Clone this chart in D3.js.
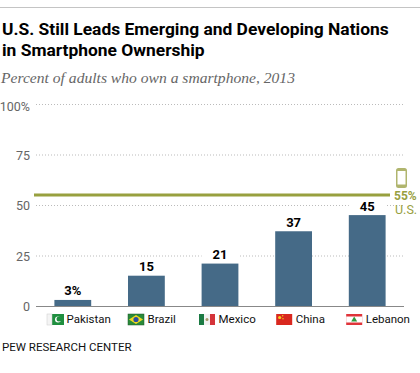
<!DOCTYPE html>
<html>
<head>
<meta charset="utf-8">
<script src="https://cdn.jsdelivr.net/npm/d3@7"></script>
<style>
  body { margin: 0; background: #fff; }
  text { font-family: Roboto, sans-serif; }
</style>
</head>
<body>
<div id="chart"></div>
<script>
// Chart data
const countries = ["Pakistan", "Brazil", "Mexico", "China", "Lebanon"];
const ownership = [3, 15, 21, 37, 45];
const valueLabels = ["3%", "15", "21", "37", "45"];
const yTicks = [0, 25, 50, 75, 100];
const usValue = 55;

const width = 420;
const height = 373;

const svg = d3.select("#chart")
    .append("svg")
    .attr("width", width)
    .attr("height", height)
    .style("display", "block");

const x = d3.scaleBand()
    .domain(countries)
    .range([36, 404])
    .paddingInner(0.5)
    .paddingOuter(0.25);

const y = d3.scaleLinear()
    .domain([0, 100])
    .range([306, 104]);

// Header
svg.append("line")
    .attr("x1", 0).attr("x2", width)
    .attr("y1", 7.5).attr("y2", 7.5)
    .attr("stroke", "#c4c4c4");

svg.selectAll(".title")
    .data(["U.S. Still Leads Emerging and Developing Nations", "in Smartphone Ownership"])
    .enter()
    .append("text")
    .attr("class", "title")
    .attr("x", 2)
    .attr("y", (d, i) => 35 + i * 20.5)
    .attr("font-size", "17.4px")
    .attr("font-weight", 700)
    .attr("fill", "#000")
    .text(d => d);

svg.append("text")
    .attr("x", 1)
    .attr("y", 83)
    .attr("font-size", "15.6px")
    .attr("font-style", "italic")
    .attr("fill", "#666")
    .style("font-family", "'Liberation Serif', serif")
    .text("Percent of adults who own a smartphone, 2013");

// Grid and y labels
svg.selectAll(".grid")
    .data(yTicks.filter(d => d > 0))
    .enter()
    .append("line")
    .attr("class", "grid")
    .attr("x1", 36).attr("x2", 403)
    .attr("y1", d => y(d) + 0.5).attr("y2", d => y(d) + 0.5)
    .attr("stroke", "#bbb")
    .attr("stroke-dasharray", "1,2");

svg.selectAll(".ylabel")
    .data(yTicks)
    .enter()
    .append("text")
    .attr("class", "ylabel")
    .attr("x", 30)
    .attr("y", d => y(d) + (d === 100 ? 7 : 5))
    .attr("text-anchor", "end")
    .attr("font-size", "12.5px")
    .attr("fill", "#666")
    .text(d => d === 100 ? "100%" : d);

// White patch above each bar, it breaks the grid behind the value labels
svg.selectAll(".patch")
    .data(countries)
    .enter()
    .append("rect")
    .attr("class", "patch")
    .attr("x", d => x(d))
    .attr("width", x.bandwidth())
    .attr("y", (d, i) => y(ownership[i]) - 16)
    .attr("height", 16)
    .attr("fill", "#fff");

// Bars
svg.selectAll(".bar")
    .data(countries)
    .enter()
    .append("rect")
    .attr("class", "bar")
    .attr("x", d => x(d))
    .attr("width", x.bandwidth())
    .attr("y", (d, i) => y(ownership[i]))
    .attr("height", (d, i) => y(0) - y(ownership[i]))
    .attr("fill", "#456a87");

svg.selectAll(".value")
    .data(countries)
    .enter()
    .append("text")
    .attr("class", "value")
    .attr("x", d => x(d) + x.bandwidth() / 2)
    .attr("y", (d, i) => y(ownership[i]) - 4.5)
    .attr("text-anchor", "middle")
    .attr("font-size", "13px")
    .attr("font-weight", 700)
    .attr("fill", "#000")
    .text((d, i) => valueLabels[i]);

// Baseline
svg.append("line")
    .attr("x1", 36).attr("x2", 404)
    .attr("y1", y(0) + 0.5).attr("y2", y(0) + 0.5)
    .attr("stroke", "#888");

// U.S. reference line
svg.append("line")
    .attr("x1", 34).attr("x2", 390)
    .attr("y1", y(usValue) + 0.2).attr("y2", y(usValue) + 0.2)
    .attr("stroke", "#98a03f")
    .attr("stroke-width", 3);

// Phone icon
const phone = svg.append("g")
    .attr("transform", "translate(396,168)");
phone.append("rect")
    .attr("width", 11).attr("height", 20)
    .attr("rx", 2.5)
    .attr("fill", "#b0b56e");
phone.append("rect")
    .attr("x", 1.5).attr("y", 3)
    .attr("width", 8).attr("height", 13.5)
    .attr("fill", "#fff");

svg.append("text")
    .attr("x", 394).attr("y", 199.5)
    .attr("font-size", "12px")
    .attr("font-weight", 700)
    .attr("fill", "#98a03f")
    .text("55%");
svg.append("text")
    .attr("x", 395).attr("y", 213.5)
    .attr("font-size", "12.5px")
    .attr("fill", "#98a03f")
    .text("U.S.");

// Small flags, each drawn in a 16x11 box
const flags = {
    Pakistan: g => {
        g.append("rect").attr("width", 17).attr("height", 11).attr("fill", "#1f8f3f");
        g.append("rect").attr("width", 5).attr("height", 11).attr("fill", "#f4f4f4").attr("stroke", "#ccc").attr("stroke-width", 0.5);
        g.append("circle").attr("cx", 11).attr("cy", 5.5).attr("r", 3).attr("fill", "#fff");
        g.append("circle").attr("cx", 12).attr("cy", 5).attr("r", 2.5).attr("fill", "#1f8f3f");
    },
    Brazil: g => {
        g.append("rect").attr("width", 16).attr("height", 11).attr("fill", "#2a8a3a").attr("stroke", "#1d5a28").attr("stroke-width", 0.5);
        g.append("path").attr("d", "M8,1L15,5.5L8,10L1,5.5Z").attr("fill", "#f2d920");
        g.append("circle").attr("cx", 8).attr("cy", 5.5).attr("r", 2.6).attr("fill", "#2c4f9e");
    },
    Mexico: g => {
        g.append("rect").attr("width", 16).attr("height", 11).attr("fill", "#f2f2f2");
        g.append("rect").attr("width", 5).attr("height", 11).attr("fill", "#1b7a43");
        g.append("rect").attr("x", 11).attr("width", 5).attr("height", 11).attr("fill", "#d5343a");
        g.append("circle").attr("cx", 8).attr("cy", 5.5).attr("r", 1.5).attr("fill", "#a79a6a");
    },
    China: g => {
        g.append("rect").attr("width", 16).attr("height", 11).attr("fill", "#d9281f");
        g.append("circle").attr("cx", 3.5).attr("cy", 3.5).attr("r", 1.6).attr("fill", "#f6d21f");
        g.append("circle").attr("cx", 6.5).attr("cy", 1.8).attr("r", 0.7).attr("fill", "#f6d21f");
        g.append("circle").attr("cx", 6.8).attr("cy", 4.8).attr("r", 0.7).attr("fill", "#f6d21f");
    },
    Lebanon: g => {
        g.append("rect").attr("width", 16).attr("height", 11).attr("fill", "#e0343a");
        g.append("rect").attr("y", 2.5).attr("width", 16).attr("height", 6).attr("fill", "#fff");
        g.append("path").attr("d", "M8,2.5L11,7.5L5,7.5Z").attr("fill", "#2f9a3f");
    }
};

// Flag offset from each bar's left edge, the labels do not sit evenly
const flagShift = { Pakistan: -7.4, Brazil: 0, Mexico: -2.6, China: 1, Lebanon: -2.6 };

const labelGroups = svg.selectAll(".country")
    .data(countries)
    .enter()
    .append("g")
    .attr("class", "country")
    .attr("transform", d => `translate(${x(d) + flagShift[d]},0)`);

labelGroups.each(function(d) {
    const g = d3.select(this);
    const flag = g.append("g").attr("transform", "translate(0,314)");
    flags[d](flag);
    g.append("text")
        .attr("x", 19.5)
        .attr("y", 323)
        .attr("font-size", "11.5px")
        .attr("fill", "#111")
        .text(d);
});

// Source
svg.append("text")
    .attr("x", 2)
    .attr("y", 351)
    .attr("font-size", "11.5px")
    .attr("fill", "#111")
    .text("PEW RESEARCH CENTER");
</script>
</body>
</html>
